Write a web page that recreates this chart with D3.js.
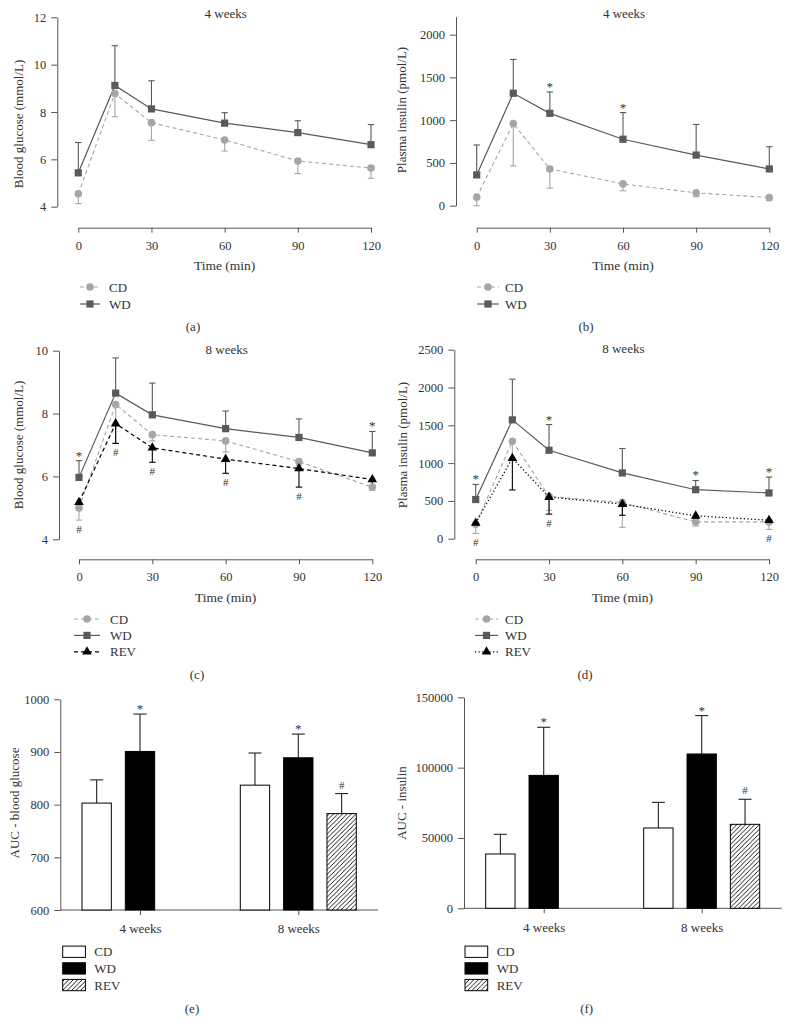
<!DOCTYPE html>
<html><head><meta charset="utf-8">
<script src="https://cdn.jsdelivr.net/npm/d3@7"></script>
<style>
body{margin:0;background:#fff}
svg{display:block;font-family:"Liberation Serif","Times New Roman",serif}
</style>
</head><body>
<svg id="chart" width="790" height="1036"></svg>
<script>
// ---------- DATA ----------
const times = [0, 15, 30, 60, 90, 120];
const timeTicks = [0, 30, 60, 90, 120];

// (a) blood glucose, 4 weeks (mmol/L)
const aCD = [4.55, 8.78, 7.55, 6.82, 5.93, 5.63];
const aCDerr = [0.42, 0.98, 0.75, 0.47, 0.53, 0.43];
const aWD = [5.43, 9.12, 8.13, 7.53, 7.13, 6.62];
const aWDerr = [1.28, 1.68, 1.19, 0.44, 0.50, 0.85];
const aTicks = [4, 6, 8, 10, 12];

// (b) plasma insulin, 4 weeks (pmol/L)
const bCD = [100, 960, 430, 255, 150, 95];
const bCDerr = [100, 495, 225, 80, 45, 35];
const bWD = [360, 1315, 1080, 777, 592, 430];
const bWDerr = [350, 395, 250, 312, 358, 260];
const bTicks = [0, 500, 1000, 1500, 2000];
const bStars = [30, 60];

// (c) blood glucose, 8 weeks
const cCD = [5.00, 8.29, 7.33, 7.13, 6.47, 5.66];
const cCDerr = [0.39, 1.23, 0.20, 0.35, 0.12, 0.10];
const cWD = [5.97, 8.65, 7.96, 7.52, 7.24, 6.75];
const cWDerr = [0.53, 1.12, 1.01, 0.56, 0.59, 0.68];
const cREV = [5.18, 7.68, 6.91, 6.55, 6.25, 5.90];
const cREVerr = [0.20, 0.63, 0.46, 0.45, 0.59, 0.20];
const cTicks = [4, 6, 8, 10];
const cStars = [0, 120];
const cHashes = [0, 15, 30, 60, 90];

// (d) plasma insulin, 8 weeks
const dCD = [190, 1290, 560, 478, 222, 222];
const dCDerr = [120, 250, 185, 327, 55, 100];
const dWD = [518, 1572, 1170, 870, 648, 605];
const dWDerr = [200, 538, 340, 323, 122, 210];
const dREV = [208, 1065, 550, 457, 302, 245];
const dREVerr = [30, 420, 225, 147, 30, 30];
const dTicks = [0, 500, 1000, 1500, 2000, 2500];
const dStars = [0, 30, 90, 120];
const dHashes = [0, 30, 120];

// (e) AUC blood glucose, (f) AUC insulin
const groups = ["4 weeks", "8 weeks"];
const diets = ["CD", "WD", "REV"];
const eCD = [803, 837],   eCDerr = [44, 61];
const eWD = [901, 889],   eWDerr = [71, 45];
const eREV = [null, 783], eREVerr = [null, 38];
const eTicks = [600, 700, 800, 900, 1000];
const fCD = [38600, 57100],  fCDerr = [14000, 18200];
const fWD = [94500, 109700], fWDerr = [34200, 27300];
const fREV = [null, 59700],  fREVerr = [null, 17800];
const fTicks = [0, 50000, 100000, 150000];

// ---------- STYLE ----------
const C_CD = "#a6a6a6", C_WD = "#5a5a5a", C_REV = "#000";
const TXT = "#333", AX = "#555";
const fmt = d3.format("d");

const svg = d3.select("#chart");
const defs = svg.append("defs");
const pat = defs.append("pattern").attr("id", "hatch").attr("patternUnits", "userSpaceOnUse")
  .attr("width", 4.5).attr("height", 4.5);
pat.append("rect").attr("width", 4.5).attr("height", 4.5).attr("fill", "#fff");
pat.append("path").attr("d", "M-1,1 L1,-1 M0,4.5 L4.5,0 M3.5,5.5 L5.5,3.5")
  .attr("stroke", "#000").attr("stroke-width", 0.9);

function styleAxis(g, fs) {
  g.attr("font-family", null);
  g.selectAll("path,line").attr("stroke", AX).attr("stroke-width", 1);
  g.selectAll("text").attr("fill", TXT).attr("font-size", fs || 12.5);
}

function yLabel(text, cx, cy) {
  svg.append("text").attr("transform", `translate(${cx + 4.4},${cy}) rotate(-90)`)
    .attr("text-anchor", "middle").attr("font-size", 13).attr("fill", TXT).text(text);
}
function centerText(text, cx, cy, fs) {
  svg.append("text").attr("x", cx).attr("y", cy + (fs || 13) * 0.33)
    .attr("text-anchor", "middle").attr("font-size", fs || 13).attr("fill", TXT).text(text);
}

const markerStyles = {
  CD: {color: C_CD, dash: "4,3", width: 1.1, shape: "circle"},
  WD: {color: C_WD, dash: null, width: 1.2, shape: "square"},
  REVdash: {color: C_REV, dash: "4,3", width: 1.2, shape: "triangle"},
  REVdot: {color: C_REV, dash: "1.2,2.4", width: 1.3, shape: "triangle"}
};

function drawMarker(g, shape, color, cx, cy) {
  if (shape === "circle") g.append("circle").attr("cx", cx).attr("cy", cy).attr("r", 3.8).attr("fill", color);
  else if (shape === "square") g.append("rect").attr("x", cx - 3.6).attr("y", cy - 3.6).attr("width", 7.2).attr("height", 7.2).attr("fill", color);
  else g.append("path").attr("d", d3.symbol(d3.symbolTriangle, 40)()).attr("transform", `translate(${cx},${cy})`).attr("fill", color);
}

function linePanel(p) {
  const g = svg.append("g");
  const x = d3.scaleLinear().domain([0, 120]).range([p.x0, p.x1]);
  const y = d3.scaleLinear().domain(p.yDomain).range([p.yBot, p.yTop]);
  const ya = g.append("g").attr("transform", `translate(${p.yAxisX},0)`)
    .call(d3.axisLeft(y).tickValues(p.yTicks).tickFormat(fmt).tickSize(6).tickSizeOuter(0).tickPadding(5));
  styleAxis(ya);
  const xa = g.append("g").attr("transform", `translate(0,${p.xAxisY})`)
    .call(d3.axisBottom(x).tickValues(timeTicks).tickFormat(fmt).tickSize(5).tickSizeOuter(0).tickPadding(8));
  styleAxis(xa);

  centerText(p.title, (p.x0 + p.x1) / 2 + 1, p.titleY, 13);
  centerText("Time (min)", (p.x0 + p.x1) / 2, p.xAxisY + 38, 13.5);
  yLabel(p.ylabel, p.ylabelX, p.ylabelY);

  // error bars
  p.series.forEach(s => {
    const st = markerStyles[s.style];
    s.vals.forEach((v, i) => {
      const xx = x(times[i]), y1 = y(v), y2 = y(v + s.dir * s.err[i]);
      g.append("line").attr("x1", xx).attr("x2", xx).attr("y1", y1).attr("y2", y2)
        .attr("stroke", st.color).attr("stroke-width", 1.1);
      g.append("line").attr("x1", xx - 3.2).attr("x2", xx + 3.2).attr("y1", y2).attr("y2", y2)
        .attr("stroke", st.color).attr("stroke-width", 1.1);
    });
  });
  // lines
  p.series.forEach(s => {
    const st = markerStyles[s.style];
    g.append("path").datum(s.vals)
      .attr("d", d3.line().x((d, i) => x(times[i])).y(d => y(d)))
      .attr("fill", "none").attr("stroke", st.color).attr("stroke-width", st.width)
      .attr("stroke-dasharray", st.dash);
  });
  // markers
  p.series.forEach(s => {
    const st = markerStyles[s.style];
    s.vals.forEach((v, i) => drawMarker(g, st.shape, st.color, x(times[i]), y(v)));
  });
  // significance marks
  const wd = p.series.find(s => s.name === "WD");
  (p.stars || []).forEach(t => {
    const i = times.indexOf(t);
    g.append("text").attr("x", x(t)).attr("y", y(wd.vals[i] + wd.err[i]) - 1)
      .attr("text-anchor", "middle").attr("font-size", 13).attr("fill", TXT).text("*");
  });
  (p.hashes || []).forEach(t => {
    const i = times.indexOf(t);
    let low = -Infinity;
    p.series.forEach(s => {
      const lo = y(s.vals[i] + Math.min(0, s.dir * s.err[i]));
      low = Math.max(low, lo, y(s.vals[i]) + 4);
    });
    g.append("text").attr("x", x(t)).attr("y", low + 13)
      .attr("text-anchor", "middle").attr("font-size", 11).attr("fill", TXT).text("#");
  });
  // legend
  p.series.forEach((s, k) => {
    const st = markerStyles[s.style];
    const ly = p.legY + k * p.legStep;
    g.append("line").attr("x1", p.legX0).attr("x2", p.legX1).attr("y1", ly).attr("y2", ly)
      .attr("stroke", st.color).attr("stroke-width", st.width).attr("stroke-dasharray", st.dash);
    drawMarker(g, st.shape, st.color, (p.legX0 + p.legX1) / 2, ly);
    g.append("text").attr("x", p.legTX).attr("y", ly + 4.5).attr("font-size", 13).attr("fill", TXT).text(s.name);
  });
  centerText(p.label, p.labelX, p.labelY, 13);
}

linePanel({
  x0: 78.3, x1: 371, yTop: 17.3, yBot: 206.7, yDomain: [4, 12], yTicks: aTicks,
  yAxisX: 57.3, xAxisY: 227.7, title: "4 weeks", titleY: 14,
  ylabel: "Blood glucose (mmol/L)", ylabelX: 19, ylabelY: 124,
  series: [
    {name: "CD", vals: aCD, err: aCDerr, dir: -1, style: "CD"},
    {name: "WD", vals: aWD, err: aWDerr, dir: 1, style: "WD"}
  ],
  legY: 287, legStep: 17, legX0: 80, legX1: 100, legTX: 109,
  label: "(a)", labelX: 193, labelY: 327
});

linePanel({
  x0: 476.7, x1: 769.3, yTop: 16.7, yBot: 205.7, yDomain: [0, 2210], yTicks: bTicks,
  yAxisX: 456, xAxisY: 227.7, title: "4 weeks", titleY: 14,
  ylabel: "Plasma insulin (pmol/L)", ylabelX: 402, ylabelY: 110,
  series: [
    {name: "CD", vals: bCD, err: bCDerr, dir: -1, style: "CD"},
    {name: "WD", vals: bWD, err: bWDerr, dir: 1, style: "WD"}
  ],
  stars: bStars,
  legY: 287, legStep: 17, legX0: 477, legX1: 499, legTX: 505,
  label: "(b)", labelX: 586, labelY: 327
});

linePanel({
  x0: 79, x1: 372.3, yTop: 350.7, yBot: 539.3, yDomain: [4, 10], yTicks: cTicks,
  yAxisX: 59, xAxisY: 559.3, title: "8 weeks", titleY: 350,
  ylabel: "Blood glucose (mmol/L)", ylabelX: 19, ylabelY: 445,
  series: [
    {name: "CD", vals: cCD, err: cCDerr, dir: -1, style: "CD"},
    {name: "WD", vals: cWD, err: cWDerr, dir: 1, style: "WD"},
    {name: "REV", vals: cREV, err: cREVerr, dir: -1, style: "REVdash"}
  ],
  stars: cStars, hashes: cHashes,
  legY: 619, legStep: 16.4, legX0: 74, legX1: 100, legTX: 110,
  label: "(c)", labelX: 197, labelY: 674.3
});

linePanel({
  x0: 475.7, x1: 769, yTop: 349.7, yBot: 538.7, yDomain: [0, 2500], yTicks: dTicks,
  yAxisX: 454.3, xAxisY: 559.3, title: "8 weeks", titleY: 349,
  ylabel: "Plasma insulin (pmol/L)", ylabelX: 402.3, ylabelY: 445,
  series: [
    {name: "CD", vals: dCD, err: dCDerr, dir: -1, style: "CD"},
    {name: "WD", vals: dWD, err: dWDerr, dir: 1, style: "WD"},
    {name: "REV", vals: dREV, err: dREVerr, dir: -1, style: "REVdot"}
  ],
  stars: dStars, hashes: dHashes,
  legY: 619, legStep: 16.4, legX0: 475, legX1: 498, legTX: 505,
  label: "(d)", labelX: 585, labelY: 674.3
});

// ---------- BAR PANELS ----------
function barPanel(p) {
  const g = svg.append("g");
  const y = d3.scaleLinear().domain(p.yDomain).range([p.yBot, p.yTop]);
  const gx = d3.scalePoint().domain(groups).range(p.groupX);
  const sub = d3.scaleBand().domain(diets).range([-65, 65]).paddingInner(0.323).paddingOuter(0.1615);
  const ya = g.append("g").attr("transform", `translate(${p.yAxisX},0)`)
    .call(d3.axisLeft(y).tickValues(p.yTicks).tickSize(6).tickSizeOuter(0).tickPadding(5).tickFormat(fmt));
  styleAxis(ya);
  const xa = g.append("g").attr("transform", `translate(0,${p.yBot})`)
    .call(d3.axisBottom(gx).tickSize(5).tickSizeOuter(0).tickPadding(9));
  xa.select(".domain").remove();
  xa.append("line").attr("x1", p.yAxisX).attr("x2", p.xEnd).attr("y1", 0).attr("y2", 0);
  styleAxis(xa, 13);

  const fills = {CD: "#fff", WD: "#000", REV: "url(#hatch)"};
  p.series.forEach(s => {
    s.vals.forEach((v, i) => {
      if (v == null) return;
      const cx = gx(groups[i]) + sub(s.name) + sub.bandwidth() / 2;
      const top = y(v), etop = y(v + s.err[i]);
      g.append("line").attr("x1", cx).attr("x2", cx).attr("y1", top).attr("y2", etop)
        .attr("stroke", "#222").attr("stroke-width", 1.1);
      g.append("line").attr("x1", cx - 6.5).attr("x2", cx + 6.5).attr("y1", etop).attr("y2", etop)
        .attr("stroke", "#222").attr("stroke-width", 1.1);
      g.append("rect").attr("x", cx - sub.bandwidth() / 2).attr("y", top)
        .attr("width", sub.bandwidth()).attr("height", y(p.yDomain[0]) - top)
        .attr("fill", fills[s.name]).attr("stroke", "#000").attr("stroke-width", 1);
      const mark = s.name === "WD" ? "*" : (s.name === "REV" ? "#" : null);
      if (mark) {
        g.append("text").attr("x", cx).attr("y", mark === "*" ? etop - 1 : etop - 5)
          .attr("text-anchor", "middle").attr("font-size", mark === "*" ? 13 : 11)
          .attr("fill", TXT).text(mark);
      }
    });
  });
  yLabel(p.ylabel, p.ylabelX, p.ylabelY);
  p.series.forEach((s, k) => {
    const ly = p.legY + k * 16.65;
    g.append("rect").attr("x", p.legX).attr("y", ly - 5.6).attr("width", 22.7).attr("height", 11.3)
      .attr("fill", fills[s.name]).attr("stroke", "#000").attr("stroke-width", 1);
    g.append("text").attr("x", p.legTX).attr("y", ly + 4.5).attr("font-size", 13).attr("fill", TXT).text(s.name);
  });
  centerText(p.label, p.labelX, p.labelY, 13);
}

barPanel({
  yTop: 699.3, yBot: 910, yDomain: [600, 1000], yTicks: eTicks, yAxisX: 60.3, xEnd: 378,
  groupX: [140, 298.3],
  series: [
    {name: "CD", vals: eCD, err: eCDerr},
    {name: "WD", vals: eWD, err: eWDerr},
    {name: "REV", vals: eREV, err: eREVerr}
  ],
  ylabel: "AUC - blood glucose", ylabelX: 15, ylabelY: 803,
  legY: 951.7, legX: 62.7, legTX: 94.3,
  label: "(e)", labelX: 192, labelY: 1009
});

barPanel({
  yTop: 697.3, yBot: 908.3, yDomain: [0, 150000], yTicks: fTicks, yAxisX: 464, xEnd: 781.7,
  groupX: [543.7, 701.7],
  series: [
    {name: "CD", vals: fCD, err: fCDerr},
    {name: "WD", vals: fWD, err: fWDerr},
    {name: "REV", vals: fREV, err: fREVerr}
  ],
  ylabel: "AUC - insulin", ylabelX: 401.7, ylabelY: 803,
  legY: 951.7, legX: 465, legTX: 496.7,
  label: "(f)", labelX: 586.7, labelY: 1009
});
</script>
</body></html>
